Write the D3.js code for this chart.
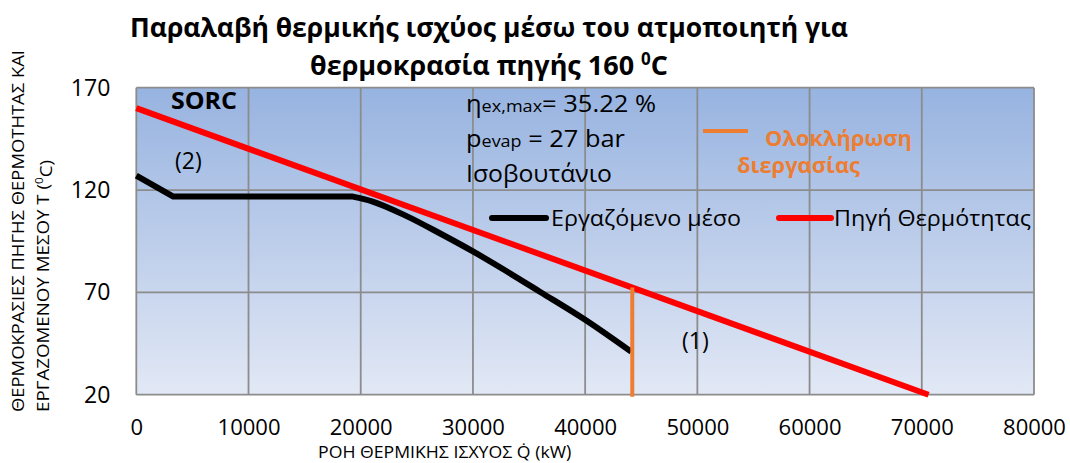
<!DOCTYPE html>
<html>
<head>
<meta charset="utf-8">
<script src="https://cdn.jsdelivr.net/npm/d3@7"></script>
<style>
  html, body { margin: 0; padding: 0; background: #ffffff; }
  svg { display: block; }
  text { font-family: "Open Sans", "Liberation Sans", sans-serif; fill: #000; }
</style>
</head>
<body>
<svg id="chart" width="1070" height="463"></svg>
<script>
// Heat transferred (kW) vs temperature (°C) in the evaporator
const workingFlow = [0, 3300, 19300, 21000, 24000, 27000, 30000, 33000, 36000, 40000, 44100];
const workingTemp = [127, 116.8, 116.8, 114.5, 107.5, 99, 90, 80.3, 70.2, 56.6, 41];
const sourceFlow = [0, 70600];
const sourceTemp = [160, 20];
const completionFlow = [44200, 44200];
const completionTemp = [19, 72.4];

const xTicks = [0, 10000, 20000, 30000, 40000, 50000, 60000, 70000, 80000];
const yTicks = [20, 70, 120, 170];

const seriesNames = ["Εργαζόμενο μέσο", "Πηγή Θερμότητας"];
const titleLines = ["Παραλαβή θερμικής ισχύος μέσω του ατμοποιητή για", "θερμοκρασία πηγής 160 "];
const yTitleLines = ["ΘΕΡΜΟΚΡΑΣΙΕΣ ΠΗΓΗΣ ΘΕΡΜΟΤΗΤΑΣ ΚΑΙ", "ΕΡΓΑΖΟΜΕΝΟΥ ΜΕΣΟΥ Τ ("];
const xTitle = "ΡΟΗ ΘΕΡΜΙΚΗΣ ΙΣΧΥΟΣ Q\u0307 (kW";

const svg = d3.select("#chart");
const plotLeft = 136.3, plotRight = 1034, plotTop = 87.7, plotBottom = 394.7;

const x = d3.scaleLinear().domain([0, 80000]).range([plotLeft, plotRight]);
const y = d3.scaleLinear().domain([20, 170]).range([plotBottom, plotTop]);

// plot background gradient
const defs = svg.append("defs");
const grad = defs.append("linearGradient").attr("id", "bg")
  .attr("x1", 0).attr("y1", 0).attr("x2", 0).attr("y2", 1);
grad.append("stop").attr("offset", "0%").attr("stop-color", "#97b3e0");
grad.append("stop").attr("offset", "100%").attr("stop-color", "#e2e8f5");

svg.append("rect")
  .attr("x", plotLeft).attr("y", plotTop)
  .attr("width", plotRight - plotLeft).attr("height", plotBottom - plotTop)
  .attr("fill", "url(#bg)");

// grid
const gridColor = "#8c8c8c";
svg.append("g").selectAll("line").data(xTicks).join("line")
  .attr("x1", d => x(d)).attr("x2", d => x(d))
  .attr("y1", plotTop).attr("y2", plotBottom)
  .attr("stroke", gridColor).attr("stroke-width", 1.8);
svg.append("g").selectAll("line").data(yTicks).join("line")
  .attr("x1", plotLeft).attr("x2", plotRight)
  .attr("y1", d => y(d)).attr("y2", d => y(d))
  .attr("stroke", gridColor).attr("stroke-width", 1.8);

// axes (labels only)
const xAxis = svg.append("g")
  .attr("transform", `translate(0,${plotBottom})`)
  .call(d3.axisBottom(x).tickValues(xTicks).tickFormat(d3.format("d")).tickSize(0).tickPadding(25));
xAxis.select(".domain").remove();
xAxis.selectAll("text").attr("font-size", 22).attr("fill", "#000")
  .attr("font-family", "Open Sans, Liberation Sans, sans-serif");

const yAxis = svg.append("g")
  .attr("transform", `translate(${plotLeft},0)`)
  .call(d3.axisLeft(y).tickValues(yTicks).tickFormat(d3.format("d")).tickSize(0).tickPadding(26));
yAxis.select(".domain").remove();
yAxis.selectAll("text").attr("font-size", 23).attr("fill", "#000")
  .attr("font-family", "Open Sans, Liberation Sans, sans-serif");

// series
const pts = d3.zip(workingFlow, workingTemp);
const linearLine = d3.line().x(d => x(d[0])).y(d => y(d[1]));
const smoothLine = d3.line().x(d => x(d[0])).y(d => y(d[1])).curve(d3.curveMonotoneX);
// straight start and flat evaporation, then a smooth superheated/cooling section
const workingPath = linearLine(pts.slice(0, 3)) + smoothLine(pts.slice(2)).replace(/^M/, "L");

svg.append("path")
  .attr("d", workingPath)
  .attr("fill", "none").attr("stroke", "#000").attr("stroke-width", 6)
  .attr("stroke-linejoin", "round");

svg.append("path")
  .datum(d3.zip(sourceFlow, sourceTemp))
  .attr("d", linearLine)
  .attr("fill", "none").attr("stroke", "#ff0000").attr("stroke-width", 6);

svg.append("path")
  .datum(d3.zip(completionFlow, completionTemp))
  .attr("d", linearLine)
  .attr("fill", "none").attr("stroke", "#ed7d31").attr("stroke-width", 4);

// title
const title = svg.append("g").attr("font-weight", "bold");
title.append("text")
  .attr("x", 489).attr("y", 37).attr("text-anchor", "middle")
  .attr("font-size", 27).attr("font-weight", "bold")
  .attr("textLength", 718).attr("lengthAdjust", "spacingAndGlyphs")
  .text(titleLines[0]);
const t2 = title.append("text")
  .attr("x", 310).attr("y", 75)
  .attr("font-size", 27).attr("font-weight", "bold")
  .attr("textLength", 358).attr("lengthAdjust", "spacingAndGlyphs");
t2.append("tspan").text(titleLines[1]);
t2.append("tspan").attr("font-size", 17).attr("dy", -10).text("0");
t2.append("tspan").attr("dy", 10).text("C");

// y axis title
const yTitle = svg.append("g").attr("font-size", 16);
yTitle.append("text")
  .attr("transform", "translate(18,412) rotate(-90)")
  .attr("dy", "0.35em")
  .attr("textLength", 362).attr("lengthAdjust", "spacingAndGlyphs")
  .text(yTitleLines[0]);
const yt2 = yTitle.append("text")
  .attr("transform", "translate(43,412) rotate(-90)")
  .attr("dy", "0.35em")
  .attr("textLength", 252).attr("lengthAdjust", "spacingAndGlyphs");
yt2.append("tspan").text(yTitleLines[1]);
yt2.append("tspan").attr("font-size", 10).attr("dy", "-0.6em").text("0");
yt2.append("tspan").attr("dy", "0.6em").text("C)");

// x axis title
const xt = svg.append("text")
  .attr("x", 318).attr("y", 458)
  .attr("font-size", 17);
xt.append("tspan").attr("textLength", 248).attr("lengthAdjust", "spacingAndGlyphs").text(xTitle);
xt.append("tspan").attr("font-size", 18).text(")");

// annotations
svg.append("text").attr("x", 171).attr("y", 109)
  .attr("font-size", 23).attr("font-weight", "bold")
  .attr("textLength", 66).attr("lengthAdjust", "spacingAndGlyphs")
  .text("SORC");
svg.append("text").attr("x", 175).attr("y", 169).attr("font-size", 23).text("(2)");
svg.append("text").attr("x", 682).attr("y", 349).attr("font-size", 23).text("(1)");

const a1 = svg.append("text").attr("x", 466).attr("y", 112).attr("font-size", 24)
  .attr("textLength", 190).attr("lengthAdjust", "spacingAndGlyphs");
a1.append("tspan").text("η");
a1.append("tspan").attr("font-size", 17).text("ex,max");
a1.append("tspan").text("= 35.22 %");

const a2 = svg.append("text").attr("x", 466).attr("y", 147).attr("font-size", 24)
  .attr("textLength", 159).attr("lengthAdjust", "spacingAndGlyphs");
a2.append("tspan").text("p");
a2.append("tspan").attr("font-size", 17).text("evap");
a2.append("tspan").text(" = 27 bar");

svg.append("text").attr("x", 466).attr("y", 182).attr("font-size", 24)
  .attr("textLength", 146).attr("lengthAdjust", "spacingAndGlyphs")
  .text("Ισοβουτάνιο");

// process-completion marker legend
svg.append("line").attr("x1", 703).attr("x2", 748).attr("y1", 131).attr("y2", 131)
  .attr("stroke", "#ed7d31").attr("stroke-width", 4);
svg.append("text").attr("x", 765).attr("y", 146)
  .attr("font-size", 22).attr("font-weight", "bold").style("fill", "#ed7d31")
  .attr("textLength", 147).attr("lengthAdjust", "spacingAndGlyphs")
  .text("Ολοκλήρωση");
svg.append("text").attr("x", 737).attr("y", 173)
  .attr("font-size", 22).attr("font-weight", "bold").style("fill", "#ed7d31")
  .attr("textLength", 123).attr("lengthAdjust", "spacingAndGlyphs")
  .text("διεργασίας");

// series legend
const legend = [
  { name: seriesNames[0], color: "#000", x1: 492, x2: 546, tx: 551, tw: 190 },
  { name: seriesNames[1], color: "#ff0000", x1: 779, x2: 831, tx: 834, tw: 197 }
];
const lg = svg.append("g").selectAll("g").data(legend).join("g");
lg.append("line")
  .attr("x1", d => d.x1).attr("x2", d => d.x2).attr("y1", 218).attr("y2", 218)
  .attr("stroke", d => d.color).attr("stroke-width", 6).attr("stroke-linecap", "round");
lg.append("text")
  .attr("x", d => d.tx).attr("y", 226).attr("font-size", 22)
  .attr("textLength", d => d.tw).attr("lengthAdjust", "spacingAndGlyphs")
  .text(d => d.name);
</script>
</body>
</html>
